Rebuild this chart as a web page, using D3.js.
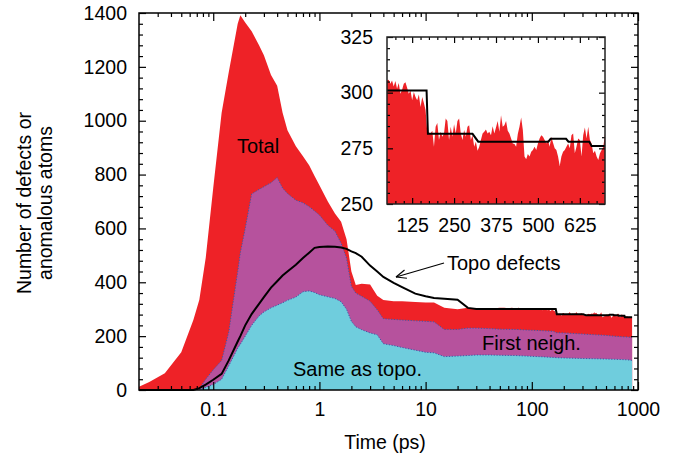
<!DOCTYPE html>
<html>
<head>
<meta charset="utf-8">
<script src="https://cdn.jsdelivr.net/npm/d3@7/dist/d3.min.js"></script>
<style>
  body { margin: 0; background: #fff; }
  svg { display: block; font-family: "Liberation Sans", Arial, Helvetica, sans-serif; }
</style>
</head>
<body>
<div id="chart"></div>
<script>
// early part of the cascade, shared time axis (ps)
var time = [0.02, 0.025, 0.035, 0.05, 0.065, 0.074, 0.085, 0.1, 0.12, 0.14, 0.17, 0.18, 0.2, 0.23, 0.27, 0.3, 0.35, 0.4, 0.45, 0.5,
            0.6, 0.7, 0.8, 0.9, 1, 1.2, 1.4, 1.6, 1.8, 2, 2.2, 2.5, 3, 3.5, 4, 5, 6, 8, 10, 12, 15, 20, 25, 30, 40]
var total = [12, 30, 62, 140, 260, 335, 491, 750, 1030, 1180, 1360, 1392, 1365, 1332, 1280, 1243, 1170, 1130, 1030, 965,
             905, 868, 835, 795, 760, 700, 655, 625, 560, 440, 390, 395, 392, 350, 334, 330, 330, 327, 325, 325, 305, 300, 305, 303, 302]
var firstNeigh = [0, 0, 0, 0, 0, 5, 40, 75, 110, 215, 440, 510, 600, 728, 745, 755, 770, 789, 750, 730,
                  705, 695, 681, 665, 650, 612, 590, 545, 490, 385, 360, 348, 330, 298, 265, 262, 260, 257, 255, 253, 225, 225, 230, 230, 228]
var sameTopo = [0, 0, 0, 0, 0, 2, 10, 20, 40, 90, 155, 170, 200, 240, 275, 290, 305, 315, 324, 333,
                345, 365, 368, 362, 354, 346, 340, 328, 300, 255, 235, 224, 212, 205, 172, 165, 158, 148, 140, 138, 124, 126, 128, 130, 130]
var topo = [0, 0, 0, 0, 0, 7, 20, 38, 60, 110, 180, 200, 240, 282, 320, 345, 380, 404, 425, 440,
            465, 490, 510, 528, 531, 533, 532, 529, 524, 515, 508, 495, 462, 440, 420, 398, 382, 358, 348, 342, 339, 335, 305, 301, 301]

// late part
var lateTime = [50, 70, 100, 130, 160, 170, 200, 250, 300, 400, 500, 600, 700, 800, 880]
var lateFirst = [226, 225, 222, 220, 218, 213, 212, 210, 208, 205, 203, 200, 198, 197, 195]
var lateSame = [129, 128, 125, 123, 121, 120, 119, 118, 117, 116, 115, 114, 113, 112, 110]

// topological defects, step-like at long times
var stepTime = [50, 168, 172, 305, 322, 531, 538, 584, 591, 653, 660, 745, 752, 880]
var stepTopo = [301, 301, 281.5, 281.5, 278, 278, 279.3, 279.3, 278, 278, 276, 276, 270, 270]

// total, fine sampling (shown in the inset)
var insetTime = [50, 55, 60, 65, 70, 75, 80, 85, 90, 95, 100, 105, 110, 115, 120, 125, 130, 135, 140, 145,
                 150, 155, 160, 165, 170, 175, 180, 185, 190, 195, 200, 205, 210, 215, 220, 225, 230, 235, 240, 245,
                 250, 255, 260, 265, 270, 275, 280, 285, 290, 295, 300, 305, 310, 315, 320, 325, 330, 335, 340, 345,
                 350, 355, 360, 365, 370, 375, 380, 385, 390, 395, 400, 405, 410, 415, 420, 425, 430, 435, 440, 445,
                 450, 455, 460, 465, 470, 475, 480, 485, 490, 495, 500, 505, 510, 515, 520, 525, 530, 535, 540, 545,
                 550, 555, 560, 565, 570, 575, 580, 585, 590, 595, 600, 605, 610, 615, 620, 625, 630, 635, 640, 645,
                 650, 655, 660, 665, 670, 675, 680, 685, 690, 695, 700]
var insetTotal = [305.5, 305.8, 304.0, 305.5, 302.8, 305.2, 301.8, 304.3, 299.5, 301.3, 304.0, 304.7, 302.2, 299.5, 301.0, 296.6, 300.3, 298.0, 296.6, 299.2,
                  293.6, 298.0, 295.4, 292.1, 282.4, 282.0, 281.7, 282.9, 275.7, 284.7, 286.4, 278.7, 282.4, 280.2, 281.7, 288.4, 287.3, 278.7, 284.7, 280.2,
                  285.8, 281.7, 287.3, 288.4, 281.7, 278.7, 283.2, 280.2, 284.7, 285.4, 278.7, 280.9, 275.7, 278.0, 273.9, 275.7, 278.7, 281.7, 282.4, 283.5,
                  281.7, 282.4, 280.9, 284.9, 281.7, 284.4, 287.3, 282.4, 289.9, 284.7, 285.4, 287.3, 282.9, 281.7, 279.4, 277.2, 276.9, 275.7, 281.4, 284.7,
                  288.8, 283.2, 271.3, 270.1, 272.5, 271.3, 273.5, 274.2, 275.7, 274.2, 277.2, 279.4, 280.9, 280.2, 278.7, 277.2, 278.7, 275.7, 280.2, 277.5,
                  275.0, 274.2, 271.3, 267.1, 271.3, 273.5, 274.2, 275.7, 277.2, 275.0, 280.9, 281.7, 272.8, 275.7, 279.4, 278.7, 271.3, 280.9, 284.4, 279.4,
                  284.7, 278.7, 277.2, 272.8, 273.9, 271.3, 269.8, 272.8, 274.2, 275.7, 281.7]
var tailTime = [710, 730, 750, 770, 790, 810, 830, 850, 870, 880]
var tailTotal = [279, 276, 275, 272, 274, 270, 272, 268, 271, 269]

var xTickLabels = [0.1, 1, 10, 100, 1000]
var yTickLabels = [0, 200, 400, 600, 800, 1000, 1200, 1400]
var insetXTicks = [125, 250, 375, 500, 625]
var insetYTicks = [250, 275, 300, 325]

var RED = '#ee2227', PURPLE = '#b6529d', CYAN = '#6fcddd', EDGE = '#3d57a6'

var svg = d3.select('#chart').append('svg').attr('width', 679).attr('height', 455)

var x = d3.scaleLog().domain([0.02, 1000]).range([139, 638]),
    y = d3.scaleLinear().domain([0, 1400]).range([390, 13])

function pts(ts, vs) {
    return ts.map(function(t, i) { return [t, vs[i]] })
}

var totalPts = pts(time, total).concat(pts(insetTime, insetTotal), pts(tailTime, tailTotal)),
    firstPts = pts(time, firstNeigh).concat(pts(lateTime, lateFirst)),
    samePts = pts(time, sameTopo).concat(pts(lateTime, lateSame)),
    topoPts = pts(time, topo).concat(pts(stepTime, stepTopo))

var area = d3.area().x(function(d) { return x(d[0]) }).y0(y(0)).y1(function(d) { return y(d[1]) }),
    line = d3.line().x(function(d) { return x(d[0]) }).y(function(d) { return y(d[1]) })

svg.append('path').attr('d', area(totalPts)).attr('fill', RED)
svg.append('path').attr('d', area(firstPts)).attr('fill', PURPLE)
svg.append('path').attr('d', area(samePts)).attr('fill', CYAN)
// dotted edges on top of the purple and cyan regions
svg.append('path').attr('d', line(firstPts.filter(function(d) { return d[1] > 0 })))
    .attr('fill', 'none').attr('stroke', EDGE).attr('stroke-width', 1).attr('stroke-dasharray', '1.2,1.6')
svg.append('path').attr('d', line(samePts.filter(function(d) { return d[1] > 0 })))
    .attr('fill', 'none').attr('stroke', EDGE).attr('stroke-width', 1).attr('stroke-dasharray', '1.2,1.6')
svg.append('path').attr('d', line(topoPts)).attr('fill', 'none').attr('stroke', '#000').attr('stroke-width', 2)

// axes, ticks pointing in on all four sides
function addAxis(gen, tx, ty, keepText, fontSize) {
    var g = svg.append('g').attr('transform', 'translate(' + tx + ',' + ty + ')').call(gen)
    g.select('.domain').remove()
    g.attr('font-size', fontSize || 19.5).attr('font-family', null)
    g.selectAll('line').attr('stroke', '#000').attr('stroke-width', 1.2)
    g.selectAll('text').attr('fill', '#000')
    if (!keepText) g.selectAll('text').remove()
    return g
}

var plain = function(d) { return String(d) }

var minorX = []
;[0.01, 0.1, 1, 10, 100].forEach(function(d) {
    for (var k = 2; k < 10; k++) if (d * k > 0.02 && d * k < 1000) minorX.push(d * k)
})
var minorY = d3.range(40, 1400, 40).filter(function(v) { return v % 200 !== 0 })

addAxis(d3.axisBottom(x).tickValues(xTickLabels).tickSize(-8).tickPadding(12).tickFormat(plain), 0, 390, true)
addAxis(d3.axisBottom(x).tickValues(minorX).tickSize(-4).tickFormat(''), 0, 390)
addAxis(d3.axisTop(x).tickValues(xTickLabels).tickSize(-8), 0, 13)
addAxis(d3.axisTop(x).tickValues(minorX).tickSize(-4), 0, 13)
addAxis(d3.axisLeft(y).tickValues(yTickLabels).tickSize(-7).tickPadding(12).tickFormat(plain), 139, 0, true)
addAxis(d3.axisLeft(y).tickValues(minorY).tickSize(-4), 139, 0)
addAxis(d3.axisRight(y).tickValues(yTickLabels).tickSize(-7), 638, 0)
addAxis(d3.axisRight(y).tickValues(minorY).tickSize(-4), 638, 0)

svg.append('rect').attr('x', 139).attr('y', 13).attr('width', 499).attr('height', 377)
    .attr('fill', 'none').attr('stroke', '#000').attr('stroke-width', 1.5)

// labels inside the plot
function label(txt, px, py, anchor) {
    svg.append('text').attr('x', px).attr('y', py).attr('dy', '0.35em')
        .attr('text-anchor', anchor || 'start').attr('font-size', 20).text(txt)
}
label('Total', 258, 146, 'middle')
label('Topo defects', 447, 263)
label('First neigh.', 482, 343)
label('Same as topo.', 293, 369)

// arrow pointing at the topo line
var ax0 = 444, ay0 = 263, ax1 = 396, ay1 = 277
var ang = Math.atan2(ay0 - ay1, ax0 - ax1)
svg.append('line').attr('x1', ax0).attr('y1', ay0).attr('x2', ax1).attr('y2', ay1).attr('stroke', '#000').attr('stroke-width', 1.2)
;[-0.4, 0.4].forEach(function(da) {
    svg.append('line').attr('x1', ax1).attr('y1', ay1)
        .attr('x2', ax1 + 11 * Math.cos(ang + da)).attr('y2', ay1 + 11 * Math.sin(ang + da))
        .attr('stroke', '#000').attr('stroke-width', 1.2)
})

// axis titles
svg.append('text').attr('x', 385).attr('y', 442).attr('dy', '0.35em').attr('text-anchor', 'middle')
    .attr('font-size', 19.5).text('Time (ps)')
var yt = svg.append('text').attr('transform', 'translate(24,203) rotate(-90)').attr('text-anchor', 'middle').attr('font-size', 19.5)
yt.append('tspan').attr('x', 0).attr('dy', '0.35em').text('Number of defects or')
yt.append('tspan').attr('x', 0).attr('dy', '1.08em').text('anomalous atoms')

// inset: long-time zoom
var xi = d3.scaleLinear().domain([50, 700]).range([387, 605]),
    yi = d3.scaleLinear().domain([250, 325]).range([204, 37])

svg.append('rect').attr('x', 387).attr('y', 37).attr('width', 218).attr('height', 167).attr('fill', '#fff')
svg.append('clipPath').attr('id', 'insetClip').append('rect')
    .attr('x', 387).attr('y', 37).attr('width', 218).attr('height', 167)

var areaI = d3.area().x(function(d) { return xi(d[0]) }).y0(yi(250)).y1(function(d) { return yi(d[1]) }),
    lineI = d3.line().x(function(d) { return xi(d[0]) }).y(function(d) { return yi(d[1]) })

var gi = svg.append('g').attr('clip-path', 'url(#insetClip)')
gi.append('path').attr('d', areaI(pts(insetTime, insetTotal))).attr('fill', RED)
gi.append('path').attr('d', lineI(pts(stepTime, stepTopo))).attr('fill', 'none').attr('stroke', '#000').attr('stroke-width', 2)

var minorXi = d3.range(75, 700, 25).filter(function(v) { return v % 125 !== 0 }),
    minorYi = d3.range(255, 325, 5).filter(function(v) { return v % 25 !== 0 })

addAxis(d3.axisBottom(xi).tickValues(insetXTicks).tickSize(-6).tickPadding(14), 0, 204, true)
addAxis(d3.axisBottom(xi).tickValues(minorXi).tickSize(-3), 0, 204)
addAxis(d3.axisTop(xi).tickValues(insetXTicks).tickSize(-6), 0, 37)
addAxis(d3.axisTop(xi).tickValues(minorXi).tickSize(-3), 0, 37)
addAxis(d3.axisLeft(yi).tickValues(insetYTicks).tickSize(-6).tickPadding(14), 387, 0, true)
addAxis(d3.axisLeft(yi).tickValues(minorYi).tickSize(-3), 387, 0)
addAxis(d3.axisRight(yi).tickValues(insetYTicks).tickSize(-6), 605, 0)
addAxis(d3.axisRight(yi).tickValues(minorYi).tickSize(-3), 605, 0)

svg.append('rect').attr('x', 387).attr('y', 37).attr('width', 218).attr('height', 167)
    .attr('fill', 'none').attr('stroke', '#222').attr('stroke-width', 1.5)
</script>
</body>
</html>
